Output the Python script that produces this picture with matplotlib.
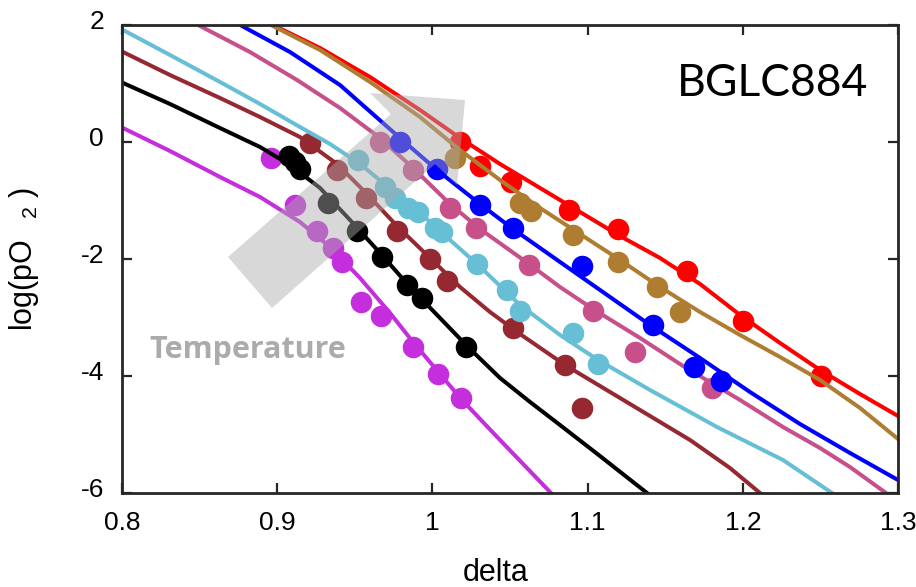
import matplotlib
matplotlib.use("Agg")
import matplotlib.pyplot as plt
from matplotlib.patches import Polygon
from matplotlib.transforms import ScaledTranslation

plt.rcParams['font.family'] = ['Liberation Sans', 'DejaVu Sans']
plt.rcParams['mathtext.fontset'] = 'custom'
plt.rcParams['mathtext.rm'] = 'Liberation Sans'
plt.rcParams['axes.unicode_minus'] = False

# fitted model curves (delta, log pO2)
red_cx = [0.89858, 0.92758, 0.95979, 0.99201, 1.01778, 1.04356, 1.06933, 1.09510,
          1.12088, 1.14665, 1.17242, 1.19820, 1.22397, 1.24974, 1.27552, 1.3]
red_cy = [1.983, 1.607, 1.111, 0.547, 0.068, -0.376, -0.786, -1.197,
          -1.607, -1.983, -2.427, -2.957, -3.436, -3.897, -4.308, -4.684]
brown_cx = [0.89729, 0.92758, 0.95979, 0.99201, 1.01778, 1.04356, 1.06933, 1.09510,
            1.12088, 1.14665, 1.17242, 1.19820, 1.22397, 1.24974, 1.27552, 1.3]
brown_cy = [1.983, 1.573, 1.026, 0.427, -0.137, -0.650, -1.128, -1.573,
            -2.017, -2.479, -2.906, -3.299, -3.675, -4.068, -4.547, -5.077]
blue_cx = [0.87732, 0.90825, 0.94046, 0.97912, 1.00296, 1.03067, 1.05193, 1.08222,
           1.10799, 1.14021, 1.17242, 1.20464, 1.23686, 1.26907, 1.3]
blue_cy = [1.983, 1.538, 0.974, 0.068, -0.479, -1.060, -1.487, -2.051,
           -2.530, -3.128, -3.692, -4.274, -4.821, -5.316, -5.778]
pink_cx = [0.85026, 0.88247, 0.91276, 0.94046, 0.96624, 0.98750, 1.01134, 1.03067, 1.06224,
           1.08222, 1.10348, 1.13376, 1.16147, 1.19820, 1.22590, 1.24974, 1.26907, 1.29227]
pink_cy = [1.983, 1.538, 1.060, 0.581, 0.068, -0.444, -1.060, -1.487, -2.085,
           -2.479, -2.855, -3.350, -3.829, -4.410, -4.872, -5.231, -5.556, -6.0]
cyan_cx = [0.80064, 0.83093, 0.86314, 0.88892, 0.91469, 0.93402, 0.95335, 0.97075, 0.99201,
           1.01134, 1.02874, 1.05644, 1.08222, 1.10670, 1.14021, 1.18338, 1.22590, 1.25747]
cyan_cy = [1.915, 1.487, 1.026, 0.650, 0.256, -0.034, -0.376, -0.752, -1.214,
           -1.675, -2.085, -2.786, -3.299, -3.726, -4.239, -4.872, -5.436, -6.0]
dred_cx = [0.80064, 0.83093, 0.86314, 0.88892, 0.91469, 0.93853, 0.95722, 0.97719, 0.99845,
           1.01778, 1.03711, 1.05644, 1.08544, 1.12088, 1.16598, 1.19175, 1.21108]
dred_cy = [1.538, 1.145, 0.752, 0.427, 0.085, -0.376, -0.872, -1.436, -1.983,
           -2.479, -2.906, -3.282, -3.812, -4.376, -5.094, -5.573, -6.0]
black_cx = [0.80064, 0.83093, 0.86314, 0.88892, 0.90825, 0.92758, 0.94691, 0.96624,
            0.98557, 1.00490, 1.02229, 1.04356, 1.06289, 1.08222, 1.10799, 1.13827]
black_cy = [1.009, 0.650, 0.239, -0.085, -0.393, -0.786, -1.333, -1.897,
            -2.479, -3.009, -3.487, -4.034, -4.444, -4.838, -5.368, -6.0]
mag_cx = [0.80064, 0.83093, 0.86314, 0.88892, 0.91469, 0.93402, 0.95335, 0.97268,
          0.98750, 1.00490, 1.01907, 1.04356, 1.07642]
mag_cy = [0.239, -0.154, -0.598, -0.940, -1.368, -1.795, -2.325, -2.923,
          -3.419, -3.966, -4.410, -5.094, -6.0]

# measured points
red_x = [1.0178, 1.0307, 1.0507, 1.0880, 1.1196, 1.1640, 1.2001, 1.2504]
red_y = [0.0, -0.41, -0.684, -1.162, -1.487, -2.205, -3.06, -4.0]
brown_x = [1.0146, 1.0564, 1.0635, 1.0906, 1.1196, 1.1447, 1.1595]
brown_y = [-0.274, -1.043, -1.179, -1.590, -2.051, -2.479, -2.906]
blue_x = [0.9791, 1.0030, 1.0307, 1.0519, 1.0964, 1.1421, 1.1686, 1.1860]
blue_y = [0.0, -0.462, -1.077, -1.470, -2.12, -3.128, -3.846, -4.085]
pink_x = [0.9662, 0.9875, 1.0113, 1.0281, 1.0622, 1.1035, 1.1305, 1.1802]
pink_y = [0.0, -0.479, -1.128, -1.470, -2.103, -2.889, -3.590, -4.205]
cyan_x = [0.9521, 0.9695, 0.9759, 0.9843, 0.9907, 1.0017, 1.0062, 1.0287, 1.0480, 1.0564, 1.0906, 1.1067]
cyan_y = [-0.308, -0.769, -0.957, -1.128, -1.197, -1.470, -1.538, -2.085, -2.53, -2.89, -3.265, -3.795]
dred_x = [0.9211, 0.9385, 0.9572, 0.9772, 0.9985, 1.0094, 1.0519, 1.0854, 1.0964]
dred_y = [-0.017, -0.479, -0.957, -1.521, -2.0, -2.376, -3.179, -3.812, -4.547]
black_x = [0.9076, 0.9115, 0.9147, 0.9327, 0.9514, 0.9675, 0.9836, 0.9933, 1.0216]
black_y = [-0.239, -0.342, -0.462, -1.043, -1.521, -1.966, -2.444, -2.667, -3.504]
mag_x = [0.8960, 0.9115, 0.9256, 0.9360, 0.9418, 0.9540, 0.9669, 0.9875, 1.0036, 1.0184]
mag_y = [-0.274, -1.077, -1.521, -1.812, -2.051, -2.735, -2.974, -3.504, -3.966, -4.376]

# bottom to top drawing order
series = [
    (mag_cx, mag_cy, mag_x, mag_y, '#C42EDC'),
    (black_cx, black_cy, black_x, black_y, '#000000'),
    (dred_cx, dred_cy, dred_x, dred_y, '#962832'),
    (cyan_cx, cyan_cy, cyan_x, cyan_y, '#66BFD4'),
    (pink_cx, pink_cy, pink_x, pink_y, '#C8508A'),
    (blue_cx, blue_cy, blue_x, blue_y, '#0000FF'),
    (red_cx, red_cy, red_x, red_y, '#FF0000'),
    (brown_cx, brown_cy, brown_x, brown_y, '#AF7D32'),
]

fig = plt.figure(figsize=(9.16, 5.87), dpi=100)
ax = fig.add_axes([0.1332, 0.1601, 0.8472, 0.7973])

for i, (cx, cy, px, py, col) in enumerate(series):
    ax.plot(cx, cy, '-', color=col, lw=2.9, zorder=2 + i, solid_joinstyle='round')
    ax.plot(px, py, 'o', color=col, ms=15.5, mec='none', zorder=2 + i)

ax.set_xlim(0.8, 1.3)
ax.set_ylim(-6, 2)
ax.set_xticks([0.8, 0.9, 1.0, 1.1, 1.2, 1.3])
ax.set_xticklabels(['0.8', '0.9', '1', '1.1', '1.2', '1.3'])
ax.set_yticks([-6, -4, -2, 0, 2])
ax.tick_params(direction='in', length=7, width=1.6, top=True, right=True,
               labelsize=19, pad=13, color='#262626')
for sp in ax.spines.values():
    sp.set_linewidth(2.0)
    sp.set_color('#262626')
    sp.set_zorder(20)

shift = ScaledTranslation(0, 6 / 100, fig.dpi_scale_trans)
for lab in ax.get_yticklabels():
    lab.set_transform(lab.get_transform() + shift)

ax.set_xlabel('delta', fontsize=22)
ax.xaxis.set_label_coords(0.482, -0.138)
ax.set_ylabel(r'log(pO$_{\ \ \ 2}$ )', fontsize=22)
ax.yaxis.set_label_coords(-0.105, 0.5)

# grey "temperature" arrow
arrow = [(0.1366, 0.5043), (0.3466, 0.8098), (0.3196, 0.8547), (0.4420, 0.8397),
         (0.4317, 0.6581), (0.4034, 0.7030), (0.1933, 0.3953)]
ax.add_patch(Polygon(arrow, closed=True, transform=ax.transAxes,
                     facecolor='#ABABAB', edgecolor='none', alpha=0.46, zorder=15))
ax.text(0.1624, 0.305, 'Temperature', transform=ax.transAxes, ha='center', va='center',
        fontsize=22, fontweight='bold', color='#ABABAB', family=['Open Sans', 'DejaVu Sans'])
ax.text(0.9613, 0.874, 'BGLC884', transform=ax.transAxes, ha='right', va='center',
        fontsize=32, color='black', family=['Lato', 'DejaVu Sans'])

fig.savefig('out.png', dpi=100)
